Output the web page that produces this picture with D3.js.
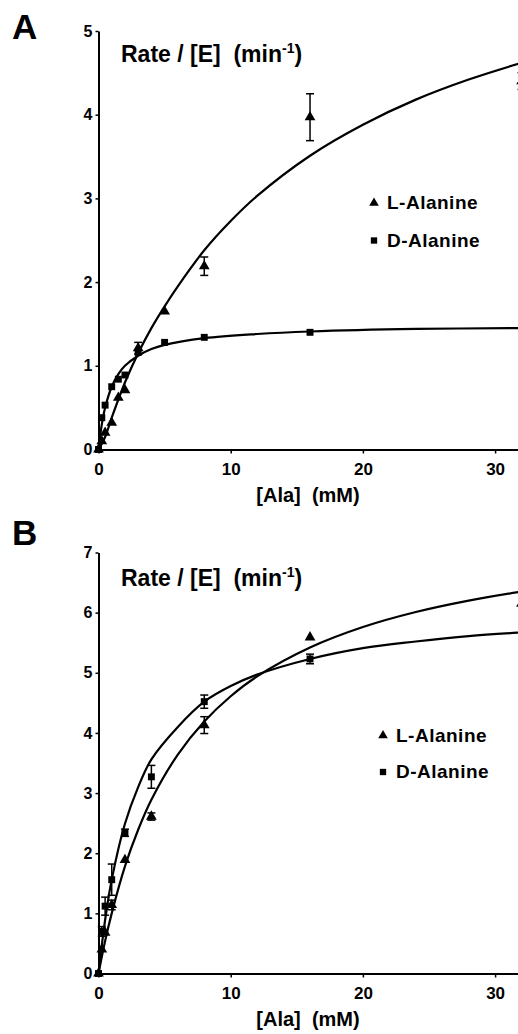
<!DOCTYPE html>
<html>
<head>
<meta charset="utf-8">
<script src="https://cdn.jsdelivr.net/npm/d3@7"></script>
<style>
  body { margin: 0; background: #fff; }
  svg { display: block; font-family: "Liberation Sans", Arial, sans-serif; }
  .tick text { font-weight: bold; fill: #000; }
  .axis path, .axis line { stroke: #000; }
</style>
</head>
<body>
<div id="chart"></div>
<script>
// ---- data ----
const seriesNames = ["L-Alanine", "D-Alanine"];

// panel A
const concA = [0, 0.25, 0.5, 1, 1.5, 2, 3, 5, 8, 16, 32];
const rateA_L = [0, 0.1, 0.2, 0.32, 0.62, 0.71, 1.21, 1.65, 2.19, 3.97, 4.4];
const errA_L = [0, 0, 0, 0.03, 0.04, 0.04, 0.07, 0.03, 0.11, 0.28, 0.1];
const rateA_D = [0, 0.38, 0.53, 0.75, 0.84, 0.89, 1.16, 1.28, 1.34, 1.4, 1.42];
const errA_D = [0, 0.03, 0.03, 0.03, 0.03, 0.03, 0.04, 0.03, 0.03, 0.02, 0.02];
// fitted curves, panel A
const fitA_Lx = [0, 0.5, 1, 2, 3, 4, 5, 6, 8, 10, 12, 16, 20, 24, 28, 32];
const fitA_Ly = [0, 0.15, 0.38, 0.8, 1.15, 1.45, 1.71, 1.95, 2.38, 2.73, 3.03, 3.51, 3.88, 4.18, 4.42, 4.62];
const fitA_Dx = [0, 0.25, 0.5, 1, 1.5, 2, 3, 4, 5, 8, 12, 16, 24, 32];
const fitA_Dy = [0, 0.3, 0.5, 0.75, 0.9, 1.0, 1.12, 1.2, 1.25, 1.33, 1.38, 1.41, 1.44, 1.45];

// panel B
const concB = [0, 0.25, 0.5, 1, 2, 4, 8, 16, 32];
const rateB_L = [0, 0.4, 0.68, 1.14, 1.89, 2.61, 4.13, 5.59, 6.15];
const errB_L = [0, 0.05, 0.05, 0.08, 0.05, 0.06, 0.14, 0.05, 0.05];
const rateB_D = [0, 0.7, 1.12, 1.56, 2.34, 3.27, 4.52, 5.23, 5.69];
const errB_D = [0, 0.08, 0.15, 0.26, 0.06, 0.19, 0.11, 0.08, 0.05];
// fitted curves, panel B
const fitB_Lx = [0, 0.5, 1, 2, 3, 4, 6, 8, 10, 12, 16, 20, 24, 28, 32];
const fitB_Ly = [0, 0.54, 1.0, 1.78, 2.39, 2.89, 3.64, 4.19, 4.61, 4.94, 5.42, 5.76, 6.01, 6.2, 6.35];
const fitB_Dx = [0, 0.5, 1, 2, 3, 4, 6, 8, 10, 12, 16, 20, 24, 28, 32];
const fitB_Dy = [0, 0.89, 1.56, 2.49, 3.1, 3.56, 4.1, 4.52, 4.78, 4.97, 5.23, 5.41, 5.52, 5.61, 5.67];

const xTicks = [0, 10, 20, 30];
const yTicksA = [0, 1, 2, 3, 4, 5];
const yTicksB = [0, 1, 2, 3, 4, 5, 6, 7];

const width = 518, height = 1034;

const svg = d3.select("#chart")
    .append("svg")
    .attr("width", width)
    .attr("height", height);

const zip = (xs, ys, es) => xs.map((x, i) => ({x: x, y: ys[i], e: es ? es[i] : 0}));

const panels = [
    {
        letter: "A", letterY: 39, top: 31, bottom: 449.5, yMax: 5, yTicks: yTicksA,
        titleY: 62, legendY: [209, 246.5], legendX: 374,
        series: [
            {pts: zip(concA, rateA_L, errA_L), fit: zip(fitA_Lx, fitA_Ly), shape: "tri"},
            {pts: zip(concA, rateA_D, errA_D), fit: zip(fitA_Dx, fitA_Dy), shape: "sq"}
        ]
    },
    {
        letter: "B", letterY: 545, top: 552.5, bottom: 973.5, yMax: 7, yTicks: yTicksB,
        titleY: 586, legendY: [741.5, 778], legendX: 383,
        series: [
            {pts: zip(concB, rateB_L, errB_L), fit: zip(fitB_Lx, fitB_Ly), shape: "tri"},
            {pts: zip(concB, rateB_D, errB_D), fit: zip(fitB_Dx, fitB_Dy), shape: "sq"}
        ]
    }
];

const x0 = 98.5;

panels.forEach(p => {
    const g = svg.append("g");

    const xScale = d3.scaleLinear().domain([0, 32]).range([x0, x0 + 32 * 13.22]);
    const yScale = d3.scaleLinear().domain([0, p.yMax]).range([p.bottom, p.top]);

    // panel letter
    g.append("text")
        .text(p.letter)
        .attr("x", 12)
        .attr("y", p.letterY)
        .attr("font-size", 35)
        .attr("font-weight", "bold");

    // axes
    const leftAxis = d3.axisLeft(yScale)
        .tickValues(p.yTicks)
        .tickFormat(d3.format("d"))
        .tickSize(3)
        .tickSizeOuter(0)
        .tickPadding(3);

    g.append("g")
        .attr("class", "axis")
        .attr("transform", `translate(${x0},0)`)
        .call(leftAxis)
        .call(s => s.select(".domain").attr("stroke-width", 2))
        .call(s => s.selectAll(".tick line").attr("stroke-width", 1.5))
        .call(s => s.selectAll(".tick text").attr("font-size", 16).attr("font-family", null));

    const bottomAxis = d3.axisBottom(xScale)
        .tickValues(xTicks)
        .tickFormat(d3.format("d"))
        .tickSize(4)
        .tickSizeOuter(0)
        .tickPadding(9);

    g.append("g")
        .attr("class", "axis")
        .attr("transform", `translate(0,${p.bottom})`)
        .call(bottomAxis)
        .call(s => s.select(".domain").attr("stroke-width", 2))
        .call(s => s.selectAll(".tick line").attr("stroke-width", 1.5))
        .call(s => s.selectAll(".tick text").attr("font-size", 17).attr("font-family", null));

    // x-axis label
    g.append("text")
        .attr("x", 308)
        .attr("y", p.bottom + 52)
        .attr("text-anchor", "middle")
        .attr("font-size", 20)
        .attr("font-weight", "bold")
        .style("white-space", "pre")
        .text("[Ala]  (mM)");

    // y-axis title
    const title = g.append("text")
        .attr("x", 121)
        .attr("y", p.titleY)
        .attr("font-size", 23)
        .attr("font-weight", "bold")
        .style("white-space", "pre");
    title.append("tspan").text("Rate / [E]  (min");
    title.append("tspan").text("-1").attr("font-size", 14).attr("dy", -9);
    title.append("tspan").text(")").attr("dy", 9);

    // fitted curves
    const line = d3.line()
        .x(d => xScale(d.x))
        .y(d => yScale(d.y))
        .curve(d3.curveCatmullRom.alpha(0.5));

    p.series.forEach(s => {
        g.append("path")
            .datum(s.fit)
            .attr("d", line)
            .attr("fill", "none")
            .attr("stroke", "#000")
            .attr("stroke-width", 2.2);
    });

    // error bars and markers
    const symTri = d3.symbol().type(d3.symbolTriangle).size(50);
    const symSq = d3.symbol().type(d3.symbolSquare).size(48);

    p.series.forEach(s => {
        const bars = g.append("g")
            .selectAll("g")
            .data(s.pts.filter(d => d.e > 0.05))
            .join("g");
        bars.append("line")
            .attr("x1", d => xScale(d.x)).attr("x2", d => xScale(d.x))
            .attr("y1", d => yScale(d.y + d.e)).attr("y2", d => yScale(d.y - d.e))
            .attr("stroke", "#000").attr("stroke-width", 1.5);
        [1, -1].forEach(sign => {
            bars.append("line")
                .attr("x1", d => xScale(d.x) - 4).attr("x2", d => xScale(d.x) + 4)
                .attr("y1", d => yScale(d.y + sign * d.e)).attr("y2", d => yScale(d.y + sign * d.e))
                .attr("stroke", "#000").attr("stroke-width", 1.5);
        });

        g.append("g")
            .selectAll("path")
            .data(s.pts)
            .join("path")
            .attr("transform", d => `translate(${xScale(d.x)},${yScale(d.y)})`)
            .attr("d", s.shape === "tri" ? symTri : symSq)
            .attr("fill", "#000");
    });

    // legend
    const legend = g.append("g");
    seriesNames.forEach((name, i) => {
        const ly = p.legendY[i];
        legend.append("path")
            .attr("transform", `translate(${p.legendX},${ly - 6})`)
            .attr("d", d3.symbol().type(i === 0 ? d3.symbolTriangle : d3.symbolSquare).size(40))
            .attr("fill", "#000");
        legend.append("text")
            .text(name)
            .attr("x", p.legendX + 13)
            .attr("y", ly)
            .attr("font-size", 19)
            .attr("font-weight", "bold")
            .attr("letter-spacing", 0.5);
    });
});
</script>
</body>
</html>
